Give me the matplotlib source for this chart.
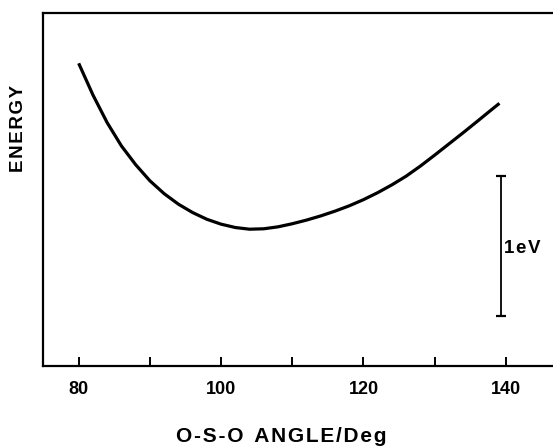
import matplotlib
matplotlib.use("Agg")
import matplotlib.pyplot as plt

# Potential energy curve (relative energy in eV, minimum = 0)
angle = [80.0, 82.0, 84.0, 86.0, 88.0, 90.0, 92.0, 94.0, 96.0, 98.0, 100.0,
         102.0, 104.0, 106.0, 108.0, 110.0, 112.0, 114.0, 116.0, 118.0, 120.0,
         122.0, 124.0, 126.0, 128.0, 130.0, 132.0, 134.0, 136.0, 138.0, 139.1]
energy = [1.186, 0.960, 0.762, 0.596, 0.462, 0.347, 0.255, 0.180, 0.120, 0.072,
          0.037, 0.013, 0.001, 0.004, 0.018, 0.040, 0.066, 0.096, 0.130, 0.168,
          0.212, 0.262, 0.318, 0.380, 0.452, 0.530, 0.610, 0.690, 0.772, 0.855,
          0.900]

major_ticks = [80, 100, 120, 140]
minor_ticks = [90, 110, 130]
tick_labels = ["80", "100", "120", "140"]

bar_x = 139.3
bar_center = -0.119
bar_half = 0.5
bar_label = "1eV"

plt.rcParams['font.family'] = ['Liberation Sans', 'DejaVu Sans']
plt.rcParams['font.weight'] = 'bold'

HS = "\u200A"  # hair space for letter spacing


def spaced(s):
    return HS.join(list(s))


fig = plt.figure(figsize=(5.53, 4.46), dpi=100)
ax = fig.add_axes([43.3/553, 1-366/446, 1-43.3/553 + 0.01, (366-13.3)/446])

ax.plot(angle, energy, color='black', lw=2.3, solid_capstyle='butt',
        solid_joinstyle='round')

ax.errorbar([bar_x], [bar_center], yerr=[bar_half], color='black', lw=1.3,
            capsize=3.8, capthick=1.6)
ax.text(bar_x + 0.5, bar_center - 0.02, spaced(bar_label), ha='left', va='center',
        fontsize=13.5, fontweight='bold')

ax.set_xlim(75.03, 147.4)
ax.set_ylim(-0.976, 1.543)

ax.set_xticks(major_ticks)
ax.set_xticklabels(tick_labels)
ax.set_xticks(minor_ticks, minor=True)
ax.tick_params(axis='x', which='both', direction='in', length=6.5, width=1.4,
               pad=10.5, labelsize=13)
ax.tick_params(axis='y', left=False, labelleft=False)
for lbl in ax.get_xticklabels():
    lbl.set_fontweight('bold')

for s in ['left', 'bottom', 'top']:
    ax.spines[s].set_linewidth(1.6)
ax.spines['right'].set_visible(False)

fig.text(281/553, 1-436/446, spaced("O-S-O") + "  " + spaced("ANGLE/Deg"),
         ha='center', va='center', fontsize=15, fontweight='bold')
fig.text(19/553, 1-128/446, spaced("ENERGY"), ha='center', va='center',
         rotation=90, fontsize=13.5, fontweight='bold')

fig.savefig("out.png", dpi=100)
